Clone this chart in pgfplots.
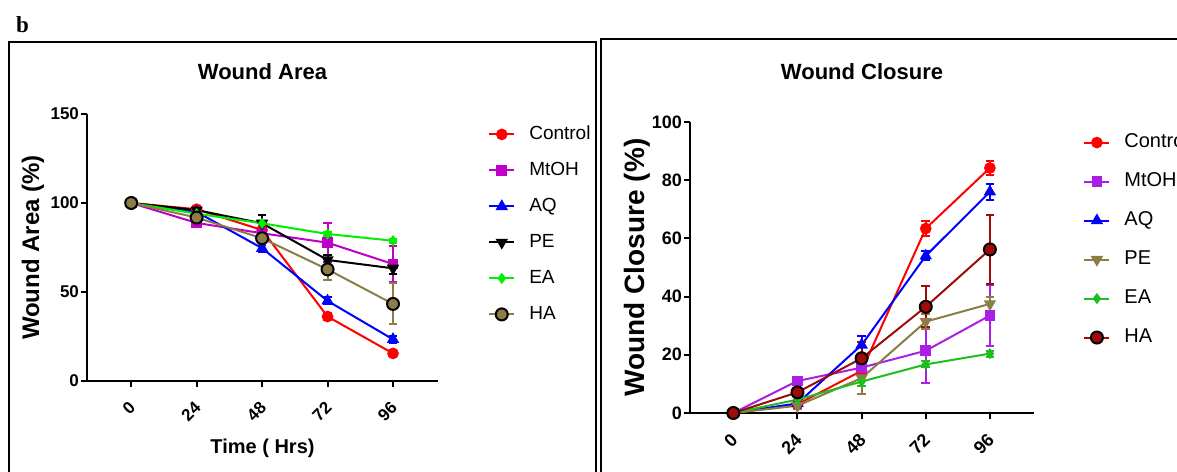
\documentclass[border=0pt]{standalone}
\usepackage{pgfplots}
\pgfplotsset{compat=1.18}
\usepackage{pgfplotstable}
\usepackage{fontspec}
\setmainfont{Liberation Sans}
\newfontfamily\serifb{Liberation Serif}

\definecolor{ctl}{RGB}{255,0,0}
\definecolor{mtL}{RGB}{190,0,200}
\definecolor{mtR}{RGB}{170,30,230}
\definecolor{aq}{RGB}{0,0,255}
\definecolor{eaL}{RGB}{0,240,0}
\definecolor{eaR}{RGB}{30,190,30}
\definecolor{olv}{RGB}{140,125,70}
\definecolor{drd}{RGB}{160,10,10}

% wound area (%), mean and error
\pgfplotstableread{
t  c    ce  m    me  a    ae  p    pe  e    ee  h    he
0  100  0   100  0   100  0   100  0   100  0   100  0
24 96.5 1   88.8 1.5 95   1   96   1   94   1   91.8 2
48 84.8 1.5 83   2   74.6 2   88.6 4.5 88.6 1.5 80.2 3
72 36.2 2   77.7 11  45   2   68   3   82.6 1   62.7 6
96 15.5 1.5 65.7 10  23.4 2   63.3 3   78.8 1   43.3 11.5
}\area

% wound closure (%)
\pgfplotstableread{
t  c    ce  m    me   a    ae  p    pe  e    ee  h    he
0  0    0   0    0    0    0   0    0   0    0   0    0
24 3    1   11   1.5  3.3  1   2.5  1   4.6  1   7.1  1
48 14.5 2   15.6 2    23.4 3   12   5.5 10.8 1.5 18.8 5.5
72 63.4 2.7 21.4 11   54   1.5 31.4 2.5 16.7 1   36.5 7
96 84.2 2.5 33.5 10.5 76   2.8 37.5 2.5 20.4 1   56.2 11.7
}\closure

\pgfplotsset{
  panel/.style={
    scale only axis, clip=false,
    axis x line=bottom, axis y line=left,
    axis line style={line width=1pt,-},
    tick align=outside, major tick length=3pt,
    every tick/.style={black, line width=1pt},
    xtick={0,24,48,72,96},
    xmin=-16.2, xmax=112.5, ymin=0,
    /pgf/number format/assume math mode=true,
    tick label style={font=\bfseries\fontsize{8.5}{10}\selectfont},
    xticklabel style={xshift=3pt, yshift=-6.5pt, rotate=45, anchor=east},
    yticklabel style={xshift=2.5pt},
    title style={font=\bfseries\fontsize{11}{13}\selectfont, anchor=center},
    every axis y label/.style={at={(axis description cs:-0.154,0.5)}, rotate=90, anchor=center, font=\bfseries\fontsize{12}{14}\selectfont},
    legend cell align=left,
    legend style={draw=none, fill=none, anchor=north west,
      font=\fontsize{9.5}{11}\selectfont, column sep=7pt,
      nodes={inner sep=0pt, text height=6.5pt, text depth=1.5pt}},
    legend image code/.code={\draw[mark repeat=2, mark phase=2, ##1] plot coordinates {(0pt,0pt) (6.25pt,0pt) (12.5pt,0pt)};},
    error bars/y dir=both, error bars/y explicit,
    error bars/error bar style={line width=1pt},
    error bars/error mark options={rotate=90, mark size=2.2pt, line width=1pt},
    every axis plot/.append style={line width=1pt, mark size=2.4pt, mark options={solid}},
  },
}

\begin{document}
\begin{tikzpicture}
% page = 1177 x 471 px, 1 px = 0.5pt
\path[use as bounding box] (0pt,0pt) rectangle (588.5pt,235.5pt);
\clip (0pt,0pt) rectangle (588.5pt,235.5pt);

\begin{scope}[x=0.5pt, y=0.5pt]
\node[anchor=base west, font=\serifb\bfseries\fontsize{11.5}{13}\selectfont] at (9,438) {b};
\draw[line width=1pt] (9,-10) -- (9,429) -- (596,429) -- (596,-10);
\draw[line width=1pt] (601,-10) -- (601,432) -- (1190,432);
\end{scope}

\begin{axis}[panel, at={(43.5pt,45pt)}, anchor=south west,
  width=175.5pt, height=133.5pt,
  ymax=150, ytick={0,50,100,150},
  title={Wound Area}, title style={at={(axis description cs:0.5,1.112)}},
  ylabel={Wound Area (\%)},
  xlabel={Time ( Hrs)},
  xlabel style={at={(axis description cs:0.5,-0.251)}, anchor=center, font=\bfseries\fontsize{10}{12}\selectfont},
  legend style={at={(axis description cs:1.125,0.970)}, row sep=10pt}]
\addplot[ctl, mark=*] table[x=t, y=c, y error=ce] {\area};
\addlegendentry{Control}
\addplot[mtL, mark=square*, mark size=2.2pt] table[x=t, y=m, y error=me] {\area};
\addlegendentry{MtOH}
\addplot[aq, mark=triangle*, mark size=2.6pt] table[x=t, y=a, y error=ae] {\area};
\addlegendentry{AQ}
\addplot[black, mark=triangle*, mark size=2.6pt, mark options={rotate=180}] table[x=t, y=p, y error=pe] {\area};
\addlegendentry{PE}
\addplot[eaL, mark=diamond*, mark size=2pt] table[x=t, y=e, y error=ee] {\area};
\addlegendentry{EA}
\addplot[olv, mark=*, mark size=3pt, mark options={fill=olv, draw=black, line width=1pt}] table[x=t, y=h, y error=he] {\area};
\addlegendentry{HA}
\end{axis}

\begin{axis}[panel, at={(345pt,29pt)}, anchor=south west,
  width=172pt, height=145.5pt,
  ymax=100, ytick={0,20,...,100},
  tick label style={font=\bfseries\fontsize{9}{10}\selectfont},
  title={Wound Closure}, title style={at={(axis description cs:0.5,1.131)}},
  ylabel={Wound Closure (\%)},
  ylabel style={font=\bfseries\fontsize{14}{16}\selectfont},
  legend style={at={(axis description cs:1.125,0.972)}, row sep=11.5pt, font=\fontsize{10}{12}\selectfont}]
\addplot[ctl, mark=*] table[x=t, y=c, y error=ce] {\closure};
\addlegendentry{Control}
\addplot[mtR, mark=square*, mark size=2.2pt] table[x=t, y=m, y error=me] {\closure};
\addlegendentry{MtOH}
\addplot[aq, mark=triangle*, mark size=2.6pt] table[x=t, y=a, y error=ae] {\closure};
\addlegendentry{AQ}
\addplot[olv, mark=triangle*, mark size=2.6pt, mark options={rotate=180}] table[x=t, y=p, y error=pe] {\closure};
\addlegendentry{PE}
\addplot[eaR, mark=diamond*, mark size=2pt] table[x=t, y=e, y error=ee] {\closure};
\addlegendentry{EA}
\addplot[drd, mark=*, mark size=3pt, mark options={fill=drd, draw=black, line width=1pt}] table[x=t, y=h, y error=he] {\closure};
\addlegendentry{HA}
\end{axis}
\end{tikzpicture}
\end{document}
